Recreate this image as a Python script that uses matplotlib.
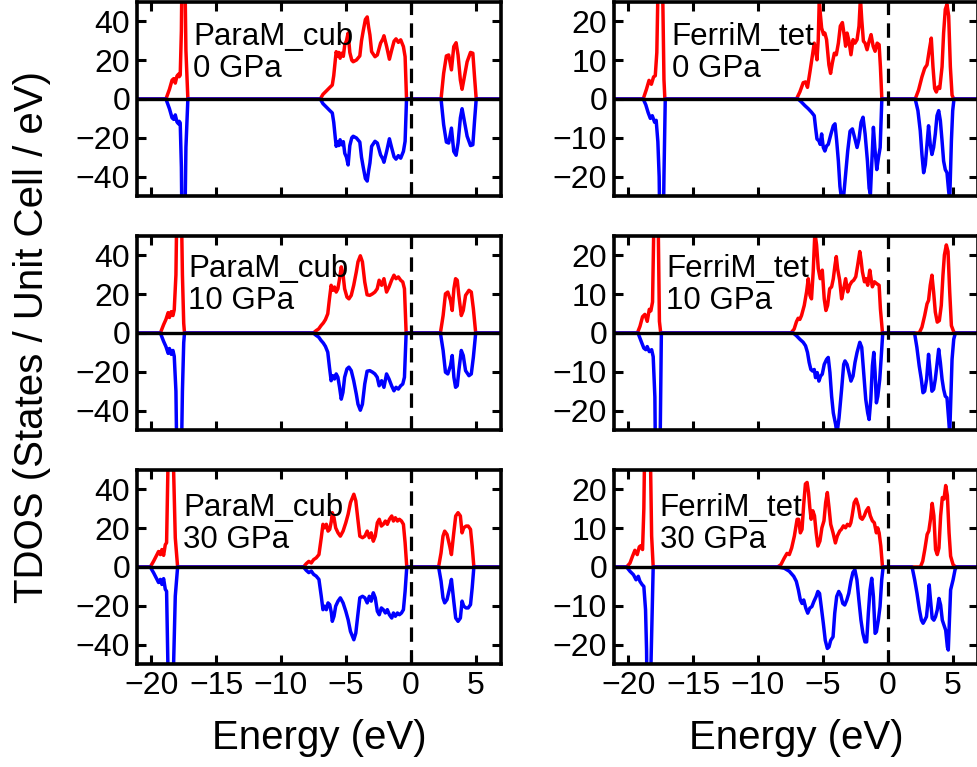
import matplotlib
matplotlib.use("Agg")
import matplotlib.pyplot as plt

plt.rcParams['font.family'] = ['Liberation Sans', 'DejaVu Sans']

# ---------------- data (energy in eV, TDOS in states/unit cell/eV) ----------------
panel_titles = ["ParaM_cub\n0 GPa", "FerriM_tet\n0 GPa",
                "ParaM_cub\n10 GPa", "FerriM_tet\n10 GPa",
                "ParaM_cub\n30 GPa", "FerriM_tet\n30 GPa"]

xticks = [-20, -15, -10, -5, 0, 5]
yticks_para = [-40, -20, 0, 20, 40]
yticks_ferri = [-20, -10, 0, 10, 20]

# ParaM_cub 0 GPa (paramagnetic: spin-down mirrors spin-up)
para0_E = [-22, -18.87, -18.6, -18.4, -18.27, -18.15, -18.02, -17.9, -17.85, -17.77, -17.68, -17.6, -17.45, -17.4, -17.33, -17.18,
           -6.98, -6.77, -6.5, -6.25, -6.05, -5.94, -5.82, -5.75, -5.65, -5.55, -5.45, -5.35, -5.2, -5.09, -4.96, -4.83, -4.7,
           -4.55, -4.44, -4.19, -3.93, -3.8, -3.67, -3.5, -3.36, -3.25, -3.15, -3.02, -2.76, -2.58, -2.33, -2.15, -2.07, -1.86,
           -1.65, -1.47, -1.29, -1.14, -0.96, -0.78, -0.57, -0.44, -0.33,
           2.33, 2.53, 2.74, 2.92, 3.13, 3.31, 3.49, 3.64, 3.82, 3.95, 4.08, 4.34, 4.6, 4.78, 4.91, 5.04, 8]
para0_up = [0, 0, 5, 9.7, 10.5, 8.2, 11.8, 12.8, 11.5, 12.3, 35, 90, 90, 60, 25, 0,
            0, 2.4, 4.2, 5.9, 7.2, 12, 20, 24.4, 22, 24, 21, 23.6, 22, 28, 30, 34, 24,
            20, 19.2, 20.1, 22.2, 30, 35, 41, 42.3, 37, 33, 24.4, 21.8, 22.7, 28.8, 31, 32.6, 27,
            20.5, 25.3, 29.8, 31, 29.2, 30.5, 27, 21.8, 0,
            0, 13.2, 22.2, 22.7, 15, 27, 29, 22.7, 9.7, 5, 9.7, 19.2, 24, 23.6, 11.4, 0, 0]

# FerriM_tet 0 GPa
ferri0_E_up = [-22, -18.85, -18.6, -18.4, -18.22, -18.05, -17.92, -17.8, -17.65, -17.5, -17.38, -17.25, -17.18,
               -7.04, -6.78, -6.52, -6.34, -6.19, -6.0, -5.82, -5.67, -5.57, -5.46, -5.36, -5.28, -5.21, -5.1, -4.95, -4.85,
               -4.72, -4.54, -4.41, -4.28, -4.12, -3.97, -3.81, -3.66, -3.5, -3.35, -3.25, -3.14, -2.99, -2.84, -2.68, -2.53,
               -2.37, -2.22, -2.11, -2.01, -1.88, -1.75, -1.6, -1.44, -1.29, -1.13, -0.98, -0.82, -0.67, -0.57, -0.46,
               2.11, 2.37, 2.63, 2.84, 3.02, 3.2, 3.35, 3.48, 3.61, 3.74, 3.87, 4.0, 4.18, 4.3, 4.43, 4.56, 4.69, 4.82, 4.95, 5.08, 8]
ferri0_up = [0, 0, 2.5, 4.8, 3.8, 5.7, 6, 12, 40, 50, 35, 5, 0,
             0, 1.8, 4.2, 4.4, 3, 7, 11, 14.4, 12.7, 10.1, 15.3, 26, 22.3, 18.3, 16.6, 17,
             15.3, 8.8, 6.6, 9.2, 11.8, 11.4, 14.4, 18.8, 19.7, 16.2, 13.6, 17, 14.9, 11.4, 15.3, 14.4,
             15.3, 18.8, 26, 20.5, 14.9, 14.4, 12.7, 14.9, 16.6, 13.6, 12.3, 14.4, 14, 8.3, 0,
             0, 2.3, 5.7, 7.9, 8.8, 12.7, 15.7, 8.3, 2.7, 1.8, 3.1, 2.7, 8.3, 17, 23.1, 24.4, 21.4, 8.3, 1, 0, 0]
ferri0_E_dn = [-22, -18.85, -18.65, -18.47, -18.3, -18.15, -17.97, -17.85, -17.72, -17.62, -17.52, -17.35, -17.25, -17.15,
               -6.91, -6.65, -6.39, -6.13, -5.88, -5.67, -5.57, -5.46, -5.31, -5.21, -5.1, -4.97, -4.85, -4.72, -4.59, -4.38,
               -4.2, -4.07, -3.94, -3.81, -3.69, -3.56, -3.43, -3.3, -3.09, -2.91, -2.73, -2.53, -2.37, -2.22, -2.06, -1.91,
               -1.75, -1.57, -1.44, -1.34, -1.24, -1.11, -0.98, -0.85, -0.72, -0.59, -0.46,
               2.11, 2.32, 2.5, 2.63, 2.76, 2.89, 3.02, 3.14, 3.27, 3.4, 3.53, 3.66, 3.79, 3.92, 4.05, 4.18, 4.3, 4.43, 4.56,
               4.69, 4.77, 4.9, 5.0, 5.1, 8]
ferri0_dn = [0, 0, -1.5, -3.5, -5, -4.3, -6, -5.5, -11, -20, -45, -45, -20, 0,
             0, -0.8, -1.7, -2.5, -3.4, -4.3, -7.3, -10.3, -10.8, -11.7, -9, -12.5, -13.4, -12.1, -11.7, -9,
             -6.9, -6.4, -10.8, -16, -22.5, -26, -26, -21.2, -13.4, -8.3, -7.7, -10.3, -12.5, -10.3, -6, -4.7,
             -9, -16, -23, -24.5, -16.9, -7.3, -13.4, -18.2, -15.1, -12.5, 0,
             0, -3, -8.2, -14.3, -19, -16.9, -11.7, -6.9, -11.7, -14.3, -12.5, -9, -4.3, -3, -5.6, -10.8, -16, -18.2, -19,
             -23.8, -26, -10.8, -3, 0, 0]

# ParaM_cub 10 GPa
para10_E = [-22, -19.3, -19.05, -18.87, -18.7, -18.6, -18.46, -18.33, -18.23, -18.1, -17.97, -17.75, -17.6, -17.5, -17.44,
            -7.51, -7.3, -7.1, -6.92, -6.74, -6.58, -6.4, -6.27, -6.14, -6.01, -5.88, -5.75, -5.62, -5.49, -5.36, -5.23,
            -5.1, -4.92, -4.77, -4.59, -4.4, -4.2, -4.07, -3.89, -3.73, -3.55, -3.37, -3.16, -2.95, -2.77, -2.59, -2.44,
            -2.25, -2.07, -1.87, -1.68, -1.48, -1.3, -1.14, -0.96, -0.78, -0.62, -0.49, -0.36,
            2.28, 2.49, 2.67, 2.85, 3.06, 3.19, 3.32, 3.45, 3.58, 3.7, 3.89, 4.04, 4.22, 4.48, 4.66, 4.82, 5.0, 8]
para10_up = [0, 0, 4.3, 7, 10.5, 8, 11, 9, 12, 30, 95, 95, 30, 5, 0,
             0, 1.2, 2.1, 3.8, 5.2, 6.9, 9.9, 17.6, 24.6, 22, 23.7, 21.1, 22.8, 28, 34.1, 30.6,
             22.8, 18.5, 17.6, 19.4, 24.6, 31.5, 36.7, 39.8, 36.7, 26.3, 19.7, 19.4, 20.2, 21.1, 22.8, 27.2,
             24.6, 28, 21.1, 23.7, 27.2, 29.8, 28, 28.9, 27.2, 26.3, 22.8, 0,
             0, 9, 20.2, 21.1, 16.8, 11.6, 22.8, 28, 27.2, 19.4, 9, 11.6, 19.4, 22, 21.1, 12.5, 0, 0]

# FerriM_tet 10 GPa
ferri10_E_up = [-22, -19.3, -19.1, -18.9, -18.72, -18.54, -18.38, -18.26, -18.13, -18.02, -17.92, -17.8, -17.7, -17.6, -17.5,
                -7.47, -7.22, -7.04, -6.91, -6.78, -6.65, -6.44, -6.26, -6.13, -6.0, -5.88, -5.75, -5.62, -5.49, -5.36,
                -5.21, -5.05, -4.9, -4.77, -4.64, -4.48, -4.33, -4.2, -4.07, -3.97, -3.87, -3.71, -3.56, -3.4, -3.25, -3.09,
                -2.94, -2.78, -2.63, -2.47, -2.32, -2.16, -2.06, -1.96, -1.8, -1.68, -1.55, -1.39, -1.29, -1.19, -1.03,
                -0.85, -0.67, -0.57, -0.41,
                2.42, 2.63, 2.84, 3.02, 3.14, 3.27, 3.4, 3.53, 3.66, 3.81, 3.97, 4.12, 4.25, 4.36, 4.51, 4.64, 4.77, 4.9,
                5.08, 5.21, 8]
ferri10_up = [0, 0, 1.7, 4.2, 4.8, 3, 6.1, 5.7, 8, 30, 45, 45, 30, 3, 0,
              0, 1, 2.9, 3.8, 3.5, 4.5, 7.1, 10.6, 14, 9.7, 8.8, 15.8, 26, 22.7, 16.6,
              14, 16.2, 8.8, 5.8, 7.1, 11.4, 11.9, 14, 17.5, 19.7, 16.6, 13.6, 8.8, 11.4, 14, 10.6,
              12.3, 13.2, 13.6, 14.5, 17.5, 21, 18.8, 15.8, 13.2, 14, 12.3, 16.2, 14, 11.9, 13.2,
              12.7, 12.3, 6.2, 0,
              0, 1.5, 4.5, 7.5, 8.4, 12.3, 14.9, 10.6, 5.4, 2.8, 3.2, 7.1, 14.9, 20.1, 22.7, 21, 10.6, 1.9,
              0.3, 0, 0]
ferri10_E_dn = [-22, -19.25, -19.0, -18.8, -18.65, -18.54, -18.38, -18.2, -18.08, -17.95, -17.87, -17.7, -17.55, -17.45,
                -7.29, -7.04, -6.78, -6.52, -6.34, -6.19, -6.06, -5.93, -5.8, -5.67, -5.57, -5.44, -5.31, -5.18, -5.05,
                -4.9, -4.72, -4.59, -4.46, -4.33, -4.2, -4.02, -3.92, -3.76, -3.56, -3.4, -3.3, -3.14, -2.99, -2.84, -2.68,
                -2.53, -2.37, -2.16, -2.01, -1.86, -1.7, -1.55, -1.44, -1.31, -1.19, -1.08, -0.98, -0.88, -0.77, -0.62,
                -0.52, -0.39,
                2.06, 2.24, 2.42, 2.58, 2.71, 2.84, 2.99, 3.14, 3.27, 3.4, 3.53, 3.66, 3.79, 3.92, 4.05, 4.18, 4.3, 4.43,
                4.56, 4.69, 4.77, 4.87, 4.95, 5.08, 5.21, 8]
ferri10_dn = [0, 0, -2.2, -3.9, -4.3, -3.5, -4.8, -4.3, -6.1, -16.5, -45, -45, -30, 0,
              0, -0.7, -1.6, -2.4, -3.3, -5, -7.6, -9.4, -9.8, -9.4, -11.5, -10.2, -12.4, -11.1, -10.6,
              -8.1, -6.8, -6.3, -10.2, -16.3, -20.6, -23.6, -26, -21.9, -14.5, -8.1, -7.2, -8.1, -10.2, -12.4, -11.1,
              -7.6, -5, -2.4, -3.7, -10.2, -17.1, -20.6, -22.3, -17.1, -8.5, -5, -10.2, -18, -16.3, -11.9,
              -6.8, 0,
              0, -3.7, -8.5, -11.9, -15.4, -15, -11.9, -5.5, -10.2, -15, -14.5, -11.9, -8.1, -4.2, -7.6, -11.9, -14.5,
              -16.3, -16.7, -22.3, -26, -15.4, -6.8, -1.6, 0, 0]

# ParaM_cub 30 GPa
para30_E = [-22, -20.08, -19.82, -19.56, -19.44, -19.3, -19.18, -19.05, -18.92, -18.82, -18.72, -18.6, -18.4, -18.28,
            -18.15, -17.97,
            -8.27, -8.06, -7.86, -7.67, -7.49, -7.29, -7.08, -6.9, -6.77, -6.64, -6.51, -6.38, -6.25, -6.12, -6.05,
            -5.92, -5.79, -5.61, -5.43, -5.22, -5.01, -4.83, -4.65, -4.39, -4.24, -4.08, -3.93, -3.72, -3.54, -3.36,
            -3.2, -3.05, -2.89, -2.74, -2.58, -2.43, -2.27, -2.12, -1.96, -1.81, -1.65, -1.47, -1.34, -1.19, -1.03,
            -0.88, -0.72, -0.57, -0.44, -0.31,
            2.14, 2.33, 2.48, 2.61, 2.79, 3.0, 3.13, 3.31, 3.46, 3.64, 3.82, 3.95, 4.08, 4.26, 4.42, 4.6, 4.73, 4.86, 8]
para30_up = [0, 0, 3, 6.4, 8, 6.4, 9, 6, 11.5, 12.5, 50, 90, 90, 50, 15, 0,
             0, 1.7, 2.9, 2.1, 3.8, 4.7, 6.4, 15.1, 22, 20.2, 22, 18.5, 19.4, 23.7, 28,
             25.4, 20.2, 17.6, 15.9, 18.5, 22.8, 27.2, 33.2, 37.5, 34.1, 24.6, 15.9, 15.1, 15.9, 18.5,
             15.1, 17.6, 13.3, 15.9, 22.8, 24.6, 21.1, 22, 23.7, 22, 24.6, 26.3, 23.7, 25.4, 23.7,
             24.6, 23.7, 22, 12.5, 0,
             0, 7.3, 15.9, 18.5, 16.8, 10.7, 6.4, 17.6, 26.3, 28, 26.3, 17.6, 20.2, 21.1, 21.1, 19.4, 10.7, 0, 0]

# FerriM_tet 30 GPa
ferri30_E_up = [-22, -20.13, -19.87, -19.67, -19.49, -19.31, -19.15, -19.03, -18.9, -18.8, -18.7, -18.55, -18.4, -18.3,
                -18.2, -18.08,
                -8.5, -8.24, -7.98, -7.77, -7.59, -7.41, -7.2, -6.99, -6.87, -6.74, -6.61, -6.48, -6.35, -6.22, -6.11,
                -6.01, -5.91, -5.78, -5.65, -5.52, -5.39, -5.23, -5.08, -4.92, -4.79, -4.66, -4.53, -4.4, -4.22, -4.04,
                -3.89, -3.7, -3.58, -3.42, -3.26, -3.11, -2.95, -2.85, -2.75, -2.59, -2.44, -2.28, -2.12, -1.97, -1.81,
                -1.66, -1.5, -1.35, -1.19, -1.04, -0.88, -0.78, -0.67, -0.54, -0.41,
                2.51, 2.69, 2.85, 3.03, 3.16, 3.29, 3.42, 3.55, 3.68, 3.81, 3.94, 4.07, 4.2, 4.33, 4.46, 4.59, 4.72,
                4.84, 5.03, 5.23, 8]
ferri30_up = [0, 0, 1, 2.8, 4.3, 3.2, 5.2, 5.5, 4.5, 15, 40, 45, 45, 30, 8, 0,
              0, 0.6, 2.3, 3.5, 3.2, 4.9, 8, 12.3, 12.3, 8.8, 9.7, 16.2, 21.4, 21.8, 19.2,
              15.3, 12.3, 14.5, 13.2, 8.8, 5.4, 6.7, 10.1, 11.9, 16.6, 19.2, 15.3, 11, 8.8, 6.2,
              8, 9.3, 9.7, 10.6, 10.1, 11, 10.6, 11.4, 13.2, 16.6, 17.5, 15.8, 12.7, 12.3, 13.2,
              14.5, 15.3, 13.2, 11.9, 11.4, 8.8, 10.1, 8.8, 5.4, 0,
              0, 1.5, 4.5, 8.4, 9.3, 12.3, 16.4, 13.2, 4.5, 3.2, 4.9, 13.2, 17.9, 17.5, 21, 18.4, 8.8,
              2.8, 0.6, 0, 0]
ferri30_E_dn = [-22, -20.13, -19.87, -19.6, -19.4, -19.23, -19.1, -18.92, -18.8, -18.67, -18.59, -18.52, -18.35, -18.25,
                -18.08,
                -8.5, -7.98, -7.59, -7.25, -7.05, -6.89, -6.74, -6.61, -6.48, -6.32, -6.17, -6.01, -5.85, -5.7, -5.52,
                -5.39, -5.26, -5.13, -4.97, -4.82, -4.66, -4.53, -4.4, -4.22, -4.09, -3.94, -3.78, -3.63, -3.47, -3.32,
                -3.16, -3.01, -2.85, -2.69, -2.54, -2.38, -2.23, -2.07, -1.92, -1.76, -1.63, -1.5, -1.37, -1.24, -1.11,
                -0.98, -0.88, -0.73, -0.6, -0.47, -0.36,
                1.87, 2.07, 2.25, 2.44, 2.59, 2.72, 2.85, 2.98, 3.11, 3.19, 3.29, 3.42, 3.55, 3.68, 3.81, 3.94, 4.07,
                4.2, 4.33, 4.46, 4.59, 4.66, 4.77, 4.84, 5.03, 5.18, 5.28, 8]
ferri30_dn = [0, 0, -1.1, -2, -3.3, -2.4, -3.7, -4.6, -5, -11, -21.5, -45, -45, -25, 0,
              0, -0.3, -1.1, -2.4, -3.7, -5.9, -8.5, -9.4, -8.5, -10.6, -11.9, -10.6, -10.2, -8.9, -7.6,
              -6.3, -6.8, -10.2, -14.5, -18.9, -21, -20.6, -18.9, -18, -11.9, -7.6, -6.3, -7.2, -9.4, -9.8,
              -8.5, -6.8, -3.7, -1.4, -0.7, -3.3, -8.5, -13.7, -17.1, -19.3, -19.3, -11.9, -5.9, -2.9, -7.6,
              -17.1, -16.7, -13.7, -10.2, -3.3, 0,
              0, -3.3, -6.8, -11.1, -13.7, -14.5, -13.7, -12.8, -8.5, -4.6, -8.5, -13.2, -13.7, -12.8, -11.1, -8.1,
              -9.8, -13.7, -15, -16.3, -20.6, -21.4, -11.9, -5.9, -3.3, -0.7, 0, 0]

# ---------------- figure ----------------
W, H = 977, 767
fig = plt.figure(figsize=(W / 100, H / 100), dpi=100)

col_x = [137, 614]
row_y = [2, 236, 470]
aw, ah = 364, 194

panels = [
    (para0_E, para0_up, para0_E, [-v for v in para0_up], 'para'),
    (ferri0_E_up, ferri0_up, ferri0_E_dn, ferri0_dn, 'ferri'),
    (para10_E, para10_up, para10_E, [-v for v in para10_up], 'para'),
    (ferri10_E_up, ferri10_up, ferri10_E_dn, ferri10_dn, 'ferri'),
    (para30_E, para30_up, para30_E, [-v for v in para30_up], 'para'),
    (ferri30_E_up, ferri30_up, ferri30_E_dn, ferri30_dn, 'ferri'),
]
text_pos = [(0.154, 0.895), (0.158, 0.895), (0.140, 0.905), (0.143, 0.905), (0.127, 0.88), (0.126, 0.88)]

for i, (eu, du, ed, dd, kind) in enumerate(panels):
    r, c = divmod(i, 2)
    x0, y0 = col_x[c], row_y[r]
    ax = fig.add_axes([x0 / W, 1 - (y0 + ah) / H, aw / W, ah / H])
    ax.plot(eu, du, color='#ff0000', lw=2.5, zorder=2, solid_joinstyle='round')
    ax.plot(ed, dd, color='#0000ff', lw=2.5, zorder=2, solid_joinstyle='round')
    ax.axhline(0, color='black', lw=2.4, zorder=3)
    ax.axvline(0, color='black', lw=2.3, ls=(0, (4.5, 2.6)), zorder=3)
    ax.set_xlim(-21.1, 6.95)
    if kind == 'para':
        ax.set_ylim(-50, 50)
        ax.set_yticks(yticks_para)
    else:
        ax.set_ylim(-25, 25)
        ax.set_yticks(yticks_ferri)
    ax.set_xticks(xticks)
    ax.tick_params(direction='in', top=True, right=True, length=6.5, width=2.2,
                   labelsize=23, pad=5)
    if r < 2:
        ax.tick_params(labelbottom=False)
    else:
        ax.set_xlabel('Energy (eV)', fontsize=29, labelpad=13)
    for s in ax.spines.values():
        s.set_linewidth(2.6)
    tx, ty = text_pos[i]
    ax.text(tx, ty, panel_titles[i], transform=ax.transAxes, fontsize=22.5,
            ha='left', va='top', linespacing=1.08, zorder=4)

fig.text(0.033, 0.56, 'TDOS (States / Unit Cell / eV)', rotation=90, fontsize=29,
         ha='center', va='center')

fig.savefig('out.png', dpi=100)
